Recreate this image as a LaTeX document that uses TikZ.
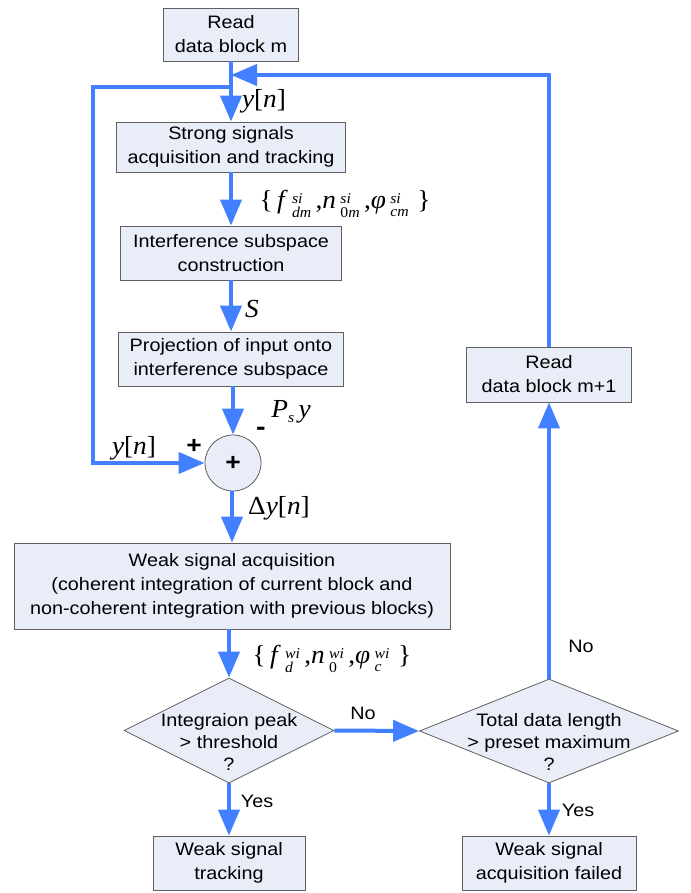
\documentclass[tikz,border=0pt]{standalone}
\usepackage{fontspec}
\setmainfont{Liberation Sans}[FakeStretch=1.1]
\newfontfamily\tms{Liberation Serif}[FakeStretch=1.05]
\usepackage{tikz}
\usetikzlibrary{
  shapes.geometric,   % decision diamonds
  arrows.meta         % big triangle tips
}
\definecolor{flowblue}{RGB}{66,128,255}
\definecolor{boxfill}{RGB}{232,237,247}
\definecolor{boxline}{RGB}{95,95,95}
% stacked super/subscript for the parameter sets
\newcommand{\supsub}[2]{\raisebox{-2pt}{\fontsize{15}{13}\selectfont\itshape
  \begin{tabular}[c]{@{}l@{}}#1\\#2\end{tabular}}}

\begin{document}
\begin{tikzpicture}[x=1pt, y=-1pt,
    every node/.style={inner sep=0pt},
    txt/.style={font=\fontsize{18}{24}\selectfont, align=center},
    block/.style={txt, draw=boxline, fill=boxfill, line width=0.8pt},
    decision/.style={diamond, draw=boxline, fill=boxfill, line width=0.8pt},
    dtxt/.style={font=\fontsize{18}{22}\selectfont, align=center},
    sym/.style={font=\tms\fontsize{26}{28}\selectfont},
    line/.style={draw=flowblue, line width=4pt},
    flow/.style={line, -{Triangle[length=26pt, width=21pt]}}
  ]
  \useasboundingbox (0,0) rectangle (690,893);
  \def\xL{231}   % main column
  \def\xR{549}   % right column

  % left column
  \node[block, minimum width=135, minimum height=53] (rdm) at (\xL,34.5) {Read\\data block m};
  \node[block, minimum width=229, minimum height=50] (strong) at (\xL,147) {Strong signals\\acquisition and tracking};
  \node[block, minimum width=221, minimum height=54] (isub) at (\xL,253) {Interference subspace\\construction};
  \node[block, minimum width=225, minimum height=54] (proj) at (\xL,359) {Projection of input onto\\interference subspace};
  \node[circle, draw=boxline, fill=boxfill, line width=0.8pt, minimum size=56, font=\fontsize{24}{24}\selectfont\bfseries] (sum) at (\xL+2,463) {+};
  \node[block, minimum width=436, minimum height=86] (weak) at (\xL+1,586) {Weak signal acquisition\\(coherent integration of current block and\\non-coherent integration with previous blocks)};
  \node[decision, minimum width=210, minimum height=105] (d1) at (\xL-2,730.5) {};
  \node[dtxt] (d1txt) at (\xL-2,742) {Integraion peak\\> threshold\\?};
  \node[block, minimum width=152, minimum height=54] (track) at (\xL-2,863) {Weak signal\\tracking};

  % right column
  \node[block, minimum width=165, minimum height=55] (rdn) at (\xR,374.5) {Read\\data block m+1};
  \node[decision, minimum width=259, minimum height=104] (d2) at (\xR,731) {};
  \node[dtxt] (d2txt) at (\xR,742) {Total data length\\> preset maximum\\?};
  \node[block, minimum width=174, minimum height=54] (fail) at (\xR,863) {Weak signal\\acquisition failed};

  % junctions on the main line
  \coordinate (jn) at (\xL,75);
  \coordinate (fb) at (\xL,87);

  % connectors
  \draw[flow] (rdm) -- (strong);
  \draw[flow] (strong) -- (isub);
  \draw[flow] (isub) -- (proj);
  \draw[flow] (proj.south -| sum.north) -- (sum.north);
  \draw[flow] (fb) -- ++(-138,0) |- (sum.west);
  \draw[flow] (sum.south -| weak.north) -- (weak.north);
  \draw[flow] (weak.south -| d1.north) -- (d1.north);
  \draw[flow] (d1.south) -- (track.north);
  \draw[flow] (d1.east) -- (d2.west);
  \draw[flow] (d2.north) -- (rdn.south);
  \draw[flow] (d2.south) -- (fail.north);
  \draw[flow] (rdn.north) |- (jn);

  % signal labels
  \node[sym] (lyn) at (264,101) {\textit{y}[\textit{n}]};
  \node[sym] (lfsi) at (345,206) {\{\,\textit{f}\,\supsub{si}{dm}\,,\textit{n}\,\supsub{si}{\upshape0\itshape m}\,,\textit{φ}\,\supsub{si}{cm}\,\,\}};
  \node[sym] (ls) at (252,309) {\textit{S}};
  \node[sym, font=\fontsize{26}{26}\selectfont\bfseries] (lminus) at (261,431) {-};
  \node[sym] (lpsy) at (291,412) {\textit{P}\raisebox{-5pt}{\fontsize{15}{15}\selectfont\itshape s}\,\textit{y}};
  \node[sym] (lyn2) at (134,448) {\textit{y}[\textit{n}]};
  \node[sym, font=\fontsize{24}{24}\selectfont\bfseries] (lplus) at (194,446) {+};
  \node[sym] (ldy) at (279,508) {Δ\textit{y}[\textit{n}]};
  \node[sym] (lfwi) at (332,661) {\{\,\textit{f}\,\supsub{wi}{d}\,,\textit{n}\,\supsub{wi}{\upshape0}\,,\textit{φ}\,\supsub{wi}{c}\,\,\}};

  % branch labels
  \node[txt] (lno1) at (363,713) {No};
  \node[txt] (lno2) at (581,646) {No};
  \node[txt] (lyes1) at (257,801) {Yes};
  \node[txt] (lyes2) at (578,810) {Yes};
\end{tikzpicture}
\end{document}
